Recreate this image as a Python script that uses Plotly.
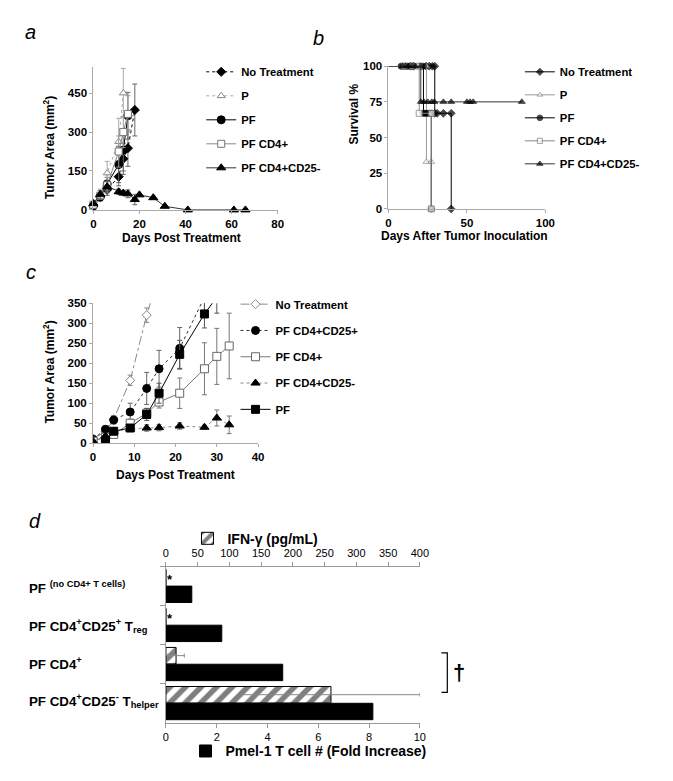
import plotly.graph_objects as go

# page body has an 8px margin: figure is sized so that it ends at the window edge
OFF = 8
W, H = 673 - OFF, 781 - OFF
def X(px): return (px - OFF) / W
def Y(py): return 1 - (py - OFF) / H

FONT = "Liberation Sans, Arial, Helvetica, sans-serif"

# ---------------- Panel a : tumor area ----------------
a_nt_days = [0, 3, 6, 11, 13, 15, 18]
a_nt_area = [15, 50, 78, 128, 197, 238, 385]
a_nt_err = [8, 15, 22, 35, 60, 70, 100]
a_p_days = [0, 3, 6, 11, 13]
a_p_area = [25, 62, 142, 263, 450]
a_p_err = [12, 18, 45, 90, 95]
a_pf_days = [0, 3, 6, 11, 13, 15]
a_pf_area = [15, 50, 100, 175, 230, 363]
a_pf_err = [8, 15, 25, 70, 80, 90]
a_cd4_days = [0, 3, 6, 11, 13, 15]
a_cd4_area = [20, 55, 95, 225, 300, 370]
a_cd4_err = [8, 12, 30, 60, 60, 70]
a_cd25n_days = [0, 3, 6, 11, 13, 15, 18, 20, 26, 31, 41, 61, 66]
a_cd25n_area = [25, 60, 90, 70, 65, 62, 40, 58, 47, 14, 0, 0, 0]
a_cd25n_err = [10, 15, 20, 10, 10, 15, 20, 5, 5, 5, 0, 0, 0]
a_yticks = [0, 150, 300, 450]
a_xticks = [0, 20, 40, 60, 80]

# ---------------- Panel b : survival ----------------
b_nt_days = [0, 14, 16, 24, 26, 28, 29.5, 29.5, 31, 35, 40, 40]
b_nt_surv = [100, 100, 100, 100, 100, 100, 100, 67, 67, 67, 67, 0]
b_p_days = [0, 12, 18, 24.2, 24.2, 27.3, 27.3]
b_p_surv = [100, 100, 100, 100, 33, 33, 0]
b_pf_days = [0, 8, 9, 10, 11, 12, 13, 15, 16, 20, 21, 22.3, 22.3, 23, 24, 25, 26, 27.3, 27.3]
b_pf_surv = [100, 100, 100, 100, 100, 100, 100, 100, 100, 100, 100, 100, 67, 67, 67, 67, 67, 67, 0]
b_cd4_days = [0, 10, 15, 19.6, 19.6, 27.3, 27.3]
b_cd4_surv = [100, 100, 100, 100, 67, 67, 0]
b_cd25n_days = [0, 9, 11, 13, 15, 17, 20.6, 20.6, 22.6, 25, 27.6, 29.3, 35, 40, 50, 52, 54, 85]
b_cd25n_surv = [100, 100, 100, 100, 100, 100, 100, 75, 75, 75, 75, 75, 75, 75, 75, 75, 75, 75]
b_yticks = [0, 25, 50, 75, 100]
b_xticks = [0, 50, 100]

# ---------------- Panel c : tumor area ----------------
c_nt_days = [0, 3, 5, 9, 13, 16]
c_nt_area = [12, 28, 60, 157, 320, 420]
c_nt_err = [0, 5, 8, 13, 18, 25]
c_cd25p_days = [0, 3, 5, 9, 13, 16, 21, 27]
c_cd25p_area = [10, 35, 58, 78, 137, 186, 237, 365]
c_cd25p_err = [0, 5, 10, 22, 40, 46, 52, 40]
c_cd4_days = [0, 3, 5, 9, 13, 16, 21, 27, 30, 33]
c_cd4_area = [5, 15, 22, 50, 75, 103, 125, 186, 217, 243]
c_cd4_err = [0, 3, 5, 10, 12, 15, 38, 65, 70, 82]
c_cd25n_days = [0, 3, 5, 9, 13, 16, 21, 27, 30, 33]
c_cd25n_area = [5, 18, 30, 36, 38, 39, 43, 40, 63, 46]
c_cd25n_err = [0, 3, 5, 6, 8, 8, 8, 5, 20, 22]
c_pf_days = [3, 5, 9, 13, 16, 21, 27, 30]
c_pf_area = [5, 30, 38, 72, 125, 222, 323, 365]
c_pf_err = [3, 5, 8, 15, 25, 35, 35, 40]
c_yticks = [0, 50, 100, 150, 200, 250, 300, 350]
c_xticks = [0, 10, 20, 30, 40]

# ---------------- Panel d : bars ----------------
d_groups = ["PF (no CD4+ T cells)", "PF CD4+CD25+ Treg", "PF CD4+", "PF CD4+CD25- Thelper"]
d_labels = ["PF <sup>(no CD4+ T cells)</sup>",
            "PF CD4<sup>+</sup>CD25<sup>+</sup> T<sub>reg</sub>",
            "PF CD4<sup>+</sup>",
            "PF CD4<sup>+</sup>CD25<sup>-</sup> T<sub>helper</sub>"]
d_pmel_fold = [1.02, 2.2, 4.6, 8.15]
d_ifn = [0, 0, 16, 260]
d_ifn_err = [0, 0, 13, 140]
d_ifn_marks = ["*", "*", "", ""]
d_fold_ticks = [0, 2, 4, 6, 8, 10]
d_ifn_ticks = [0, 50, 100, 150, 200, 250, 300, 350, 400]

fig = go.Figure()

def add_series(x, y, err, name, symbol, mcolor, mline, lcolor, dash, xa, ya, legend,
               size=7, errcolor="#666", clip=False):
    ey = dict(type="data", array=err, thickness=1, width=2.5, color=errcolor) if err is not None else dict(visible=False)
    fig.add_trace(go.Scatter(
        x=x, y=y, mode="lines+markers", name=name, error_y=ey,
        marker=dict(symbol=symbol, size=size, color=mcolor, line=dict(color=mline, width=1)),
        line=dict(color=lcolor, width=1, dash=dash),
        xaxis=xa, yaxis=ya, legend=legend, legendgroup=legend + name, cliponaxis=clip))

# panel a
add_series(a_nt_days, a_nt_area, a_nt_err, "No Treatment", "diamond", "black", "black", "black", "dot", "x", "y", "legend", 7)
add_series(a_p_days, a_p_area, a_p_err, "P", "triangle-up", "white", "#888", "#aaa", "dot", "x", "y", "legend", 7, "#aaa")
add_series(a_pf_days, a_pf_area, a_pf_err, "PF", "circle", "black", "black", "black", "solid", "x", "y", "legend", 8)
add_series(a_cd4_days, a_cd4_area, a_cd4_err, "PF CD4+", "square", "white", "#777", "#888", "solid", "x", "y", "legend", 7, "#999")
add_series(a_cd25n_days, a_cd25n_area, a_cd25n_err, "PF CD4+CD25-", "triangle-up", "black", "black", "#333", "solid", "x", "y", "legend", 8)

# panel b
def add_surv(x, y, name, symbol, mcolor, mline, lcolor):
    fig.add_trace(go.Scatter(
        x=x, y=y, mode="lines+markers", name=name, line_shape="hv",
        marker=dict(symbol=symbol, size=[0] + [6] * (len(x) - 1), color=mcolor, line=dict(color=mline, width=1)),
        line=dict(color=lcolor, width=1), xaxis="x2", yaxis="y2", legend="legend2",
        legendgroup="b" + name, cliponaxis=False))

add_surv(b_nt_days, b_nt_surv, "No Treatment", "diamond", "black", "black", "black")
add_surv(b_p_days, b_p_surv, "P", "triangle-up", "white", "#888", "#999")
add_surv(b_pf_days, b_pf_surv, "PF", "circle", "black", "black", "black")
add_surv(b_cd4_days, b_cd4_surv, "PF CD4+", "square", "white", "#777", "#888")
add_surv(b_cd25n_days, b_cd25n_surv, "PF CD4+CD25-", "triangle-up", "black", "black", "#333")

# panel c
add_series(c_nt_days, c_nt_area, c_nt_err, "No Treatment", "diamond", "white", "#888", "#888", "dashdot", "x3", "y3", "legend3", 7, "#888", clip=True)
add_series(c_cd25p_days, c_cd25p_area, c_cd25p_err, "PF CD4+CD25+", "circle", "black", "black", "#333", "dot", "x3", "y3", "legend3", 8, "#666", clip=True)
add_series(c_cd4_days, c_cd4_area, c_cd4_err, "PF CD4+", "square", "white", "#666", "#777", "solid", "x3", "y3", "legend3", 8, "#777", clip=True)
add_series(c_cd25n_days, c_cd25n_area, c_cd25n_err, "PF CD4+CD25-", "triangle-up", "black", "black", "#888", "dot", "x3", "y3", "legend3", 8, "#777", clip=True)
add_series(c_pf_days, c_pf_area, c_pf_err, "PF", "square", "black", "black", "black", "solid", "x3", "y3", "legend3", 8, "#555", clip=True)

# panel d
fig.add_trace(go.Bar(
    y=d_groups, x=d_ifn, orientation="h", name="IFN-\u03b3 (pg/mL)",
    xaxis="x5", yaxis="y4", offset=-0.43, width=0.42,
    marker=dict(color="white", line=dict(color="black", width=1),
                pattern=dict(shape="/", fgcolor="black", bgcolor="white", size=11, solidity=0.5)),
    error_x=dict(type="data", array=d_ifn_err, thickness=1, width=2, color="#888"),
    legend="legend4", cliponaxis=False))
fig.add_trace(go.Bar(
    y=d_groups, x=d_pmel_fold, orientation="h", name="Pmel-1 T cell # (Fold Increase)",
    xaxis="x4", yaxis="y4", offset=0.0, width=0.42,
    marker=dict(color="black", line=dict(color="black", width=1)),
    legend="legend5"))

tickfont_b = dict(family=FONT, size=11.5, color="black", weight="bold")
ax = dict(showline=True, linecolor="#aaa", linewidth=1, ticks="outside", tickcolor="#aaa",
          ticklen=3, showgrid=False, zeroline=False, tickfont=tickfont_b, fixedrange=True)

legend_common = dict(xanchor="left", yanchor="top", bgcolor="rgba(0,0,0,0)",
                     font=dict(family=FONT, size=11.3, color="black", weight="bold"),
                     traceorder="grouped", itemwidth=30)

fig.update_layout(
    width=W, height=H, margin=dict(l=0, r=0, t=0, b=0),
    paper_bgcolor="white", plot_bgcolor="white", barmode="overlay",
    font=dict(family=FONT, color="black"),
    xaxis=dict(ax, domain=[X(92), X(280)], range=[0, 80], tickvals=a_xticks, anchor="y"),
    yaxis=dict(ax, domain=[Y(207), Y(62)], range=[0, 550], tickvals=a_yticks, anchor="x"),
    xaxis2=dict(ax, domain=[X(393), X(553)], range=[0, 100], tickvals=b_xticks, anchor="y2"),
    yaxis2=dict(ax, domain=[Y(206), Y(61)], range=[0, 100], tickvals=b_yticks, anchor="x2"),
    xaxis3=dict(ax, domain=[X(91.7), X(260)], range=[0, 40], tickvals=c_xticks, anchor="y3"),
    yaxis3=dict(ax, domain=[Y(444), Y(301.7)], range=[0, 350], tickvals=c_yticks, anchor="x3"),
    xaxis4=dict(showline=True, linecolor="#999", ticks="outside", tickcolor="#999", ticklen=4,
                showgrid=False, zeroline=False, domain=[X(166), X(425)], range=[0, 10],
                tickvals=d_fold_ticks, anchor="y4", tickfont=dict(family=FONT, size=11, color="black")),
    xaxis5=dict(showline=True, linecolor="#999", ticks="outside", tickcolor="#999", ticklen=4,
                showgrid=False, zeroline=False, overlaying="x4", side="top", range=[0, 400],
                tickvals=d_ifn_ticks, anchor="y4", tickfont=dict(family=FONT, size=11, color="black")),
    yaxis4=dict(type="category", categoryorder="array", categoryarray=d_groups,
                domain=[Y(728), Y(569.3)], range=[3.5, -0.5], showline=True, linecolor="#999",
                ticks="outside", tickson="boundaries", ticklen=5, tickcolor="#999",
                showticklabels=False, showgrid=False, zeroline=False, anchor="x4"),
    legend=dict(legend_common, x=X(202), y=Y(52), tracegroupgap=5),
    legend2=dict(legend_common, x=X(527), y=Y(52), tracegroupgap=4),
    legend3=dict(legend_common, x=X(237), y=Y(288), tracegroupgap=7.3),
    legend4=dict(x=X(188), y=Y(541), xanchor="left", yanchor="middle", bgcolor="rgba(0,0,0,0)",
                 font=dict(family=FONT, size=14, color="black", weight="bold")),
    legend5=dict(x=X(186), y=Y(757), xanchor="left", yanchor="middle", bgcolor="rgba(0,0,0,0)",
                 font=dict(family=FONT, size=14, color="black", weight="bold")),
    showlegend=True,
)

ann = []
def txt(px, py, s, size=12, bold=True, italic=False, angle=0, xanchor="center", yanchor="middle"):
    ann.append(dict(x=X(px), y=Y(py), xref="paper", yref="paper", text=s, showarrow=False,
                    textangle=angle, xanchor=xanchor, yanchor=yanchor, borderpad=0,
                    font=dict(family=FONT, size=size, color="black",
                              weight="bold" if bold else "normal",
                              style="italic" if italic else "normal")))

# panel letters
txt(28, 26, "a", 20, bold=False, italic=True)
txt(322, 32, "b", 20, bold=False, italic=True)
txt(28, 270, "c", 20, bold=False, italic=True)
txt(32, 523, "d", 20, bold=False, italic=True)
# axis titles
txt(47, 144, "Tumor Area (mm<sup>2</sup>)", 12, angle=-90)
txt(182, 236, "Days Post Treatment", 12)
txt(358, 110, "Survival %", 12, angle=-90)
txt(471, 234, "Days After Tumor Inoculation", 12)
txt(47, 372, "Tumor Area (mm<sup>2</sup>)", 12, angle=-90)
txt(176, 476, "Days Post Treatment", 12)
# panel d category labels
for lab, py in zip(d_labels, [591, 630, 668, 706]):
    txt(25, py, lab, 13.3, xanchor="left")
# dagger
txt(465, 677, "\u2020", 22)
# stars on the zero IFN bars
for i, m in enumerate(d_ifn_marks):
    if m:
        ann.append(dict(x=7, y=i - 0.17, xref="x5", yref="y4", text=m, showarrow=False,
                        font=dict(family=FONT, size=13, color="black", weight="bold")))

fig.update_layout(annotations=ann)
fig.add_shape(type="path", xref="paper", yref="paper",
              path=f"M {X(447)},{Y(657)} L {X(453)},{Y(657)} L {X(453)},{Y(697)} L {X(447)},{Y(697)}",
              line=dict(color="black", width=1.2))

fig.write_html("out.html")
